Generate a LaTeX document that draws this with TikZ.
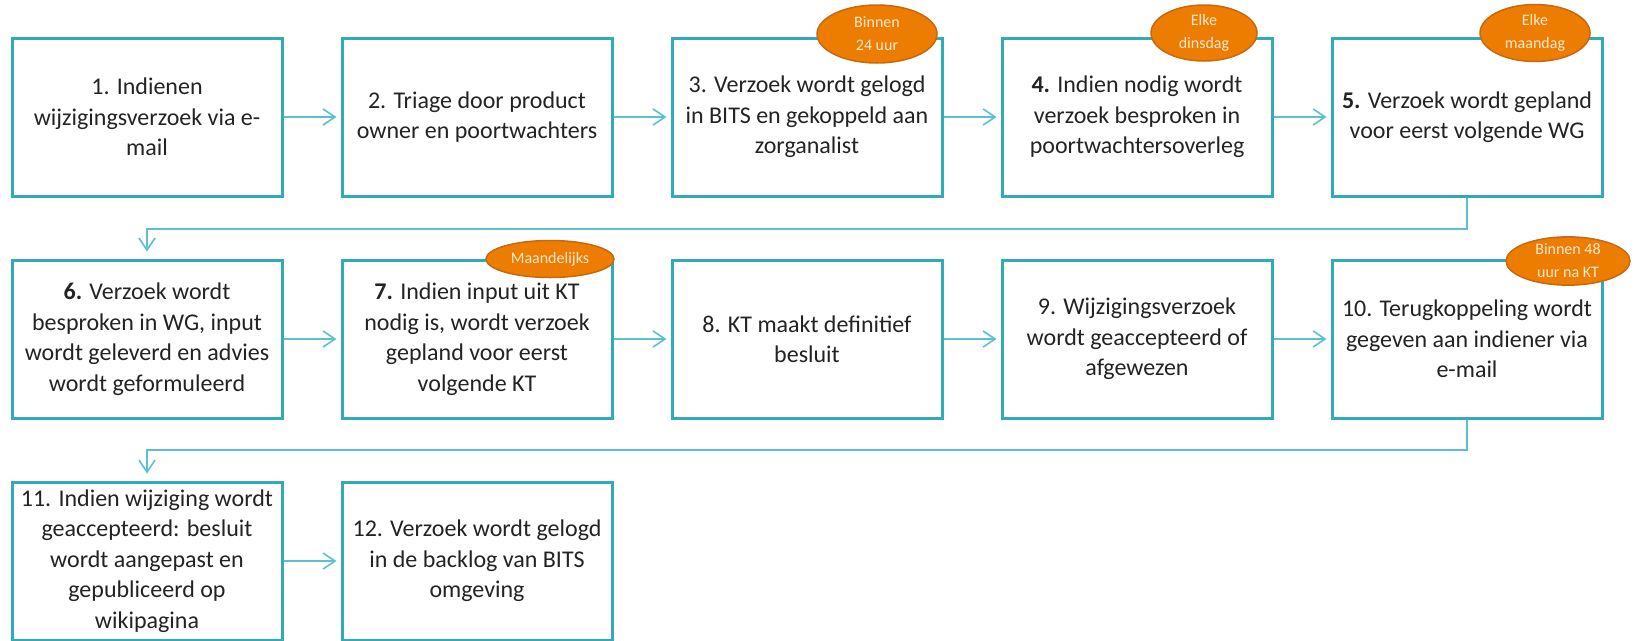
\documentclass[tikz,border=0pt]{standalone}
\usepackage{fontspec}
\setmainfont{Carlito}
\usetikzlibrary{arrows.meta,shapes.geometric}
\definecolor{boxc}{RGB}{49,170,186}
\definecolor{linec}{RGB}{92,192,208}
\definecolor{ovalfill}{RGB}{237,125,0}
\definecolor{ovaldraw}{RGB}{200,105,15}
\definecolor{ovaltext}{RGB}{255,232,210}
\definecolor{txt}{RGB}{35,35,35}
\begin{document}
\begin{tikzpicture}[x=1pt,y=-1pt,
  stepbox/.style={draw=boxc, line width=3pt, rectangle, minimum width=270pt, minimum height=158pt, inner sep=0pt, align=center, text=txt, font=\fontsize{24}{30.5}\selectfont},
  oval/.style={ellipse, fill=ovalfill, draw=ovaldraw, line width=1.5pt, inner sep=0pt, align=center, text=ovaltext, font=\fontsize{16}{23}\selectfont},
  flow/.style={draw=linec, line width=1.6pt, -{Straight Barb[length=12pt,width=16pt,line width=1.6pt]}},
]
\useasboundingbox (0,0) rectangle (1635,640);
% row 1
\node[stepbox] (b1) at (147,117) {1. Indienen\\wijzigingsverzoek via e-\\mail};
\node[stepbox] (b2) at (477,117) {2. Triage door product\\owner en poortwachters};
\node[stepbox] (b3) at (807,117) {3. Verzoek wordt gelogd\\in BITS en gekoppeld aan\\zorganalist};
\node[stepbox] (b4) at (1137,117) {\textbf{4.} Indien nodig wordt\\verzoek besproken in\\poortwachtersoverleg};
\node[stepbox] (b5) at (1467,117) {\textbf{5.} Verzoek wordt gepland\\voor eerst volgende WG};
% row 2
\node[stepbox] (b6) at (147,339) {\textbf{6.} Verzoek wordt\\besproken in WG, input\\wordt geleverd en advies\\wordt geformuleerd};
\node[stepbox] (b7) at (477,339) {\textbf{7.} Indien input uit KT\\nodig is, wordt verzoek\\gepland voor eerst\\volgende KT};
\node[stepbox] (b8) at (807,339) {8. KT maakt definitief\\besluit};
\node[stepbox] (b9) at (1137,339) {9. Wijzigingsverzoek\\wordt geaccepteerd of\\afgewezen};
\node[stepbox] (b10) at (1467,339) {10. Terugkoppeling wordt\\gegeven aan indiener via\\e-mail};
% row 3
\node[stepbox] (b11) at (147,561) {11. Indien wijziging wordt\\geaccepteerd: besluit\\wordt aangepast en\\gepubliceerd op\\wikipagina};
\node[stepbox] (b12) at (477,561) {12. Verzoek wordt gelogd\\in de backlog van BITS\\omgeving};
% connectors
\draw[flow, shorten >=4pt] (b1) -- (b2);
\draw[flow, shorten >=4pt] (b2) -- (b3);
\draw[flow, shorten >=4pt] (b3) -- (b4);
\draw[flow, shorten >=4pt] (b4) -- (b5);
\draw[flow, shorten >=4pt] (b6) -- (b7);
\draw[flow, shorten >=4pt] (b7) -- (b8);
\draw[flow, shorten >=4pt] (b8) -- (b9);
\draw[flow, shorten >=4pt] (b9) -- (b10);
\draw[flow, shorten >=4pt] (b11) -- (b12);
\coordinate (k1) at (1467,229);
\coordinate (k2) at (1467,450);
\draw[flow, shorten >=7pt] (b5.south) -- (k1) -| (b6.north);
\draw[flow, shorten >=7pt] (b10.south) -- (k2) -| (b11.north);
% ovals
\node[oval, minimum width=120pt, minimum height=58pt] (o3) at (877,34) {Binnen\\24 uur};
\node[oval, minimum width=106pt, minimum height=56pt] (o4) at (1204,33) {Elke\\dinsdag};
\node[oval, minimum width=110pt, minimum height=57pt] (o5) at (1535,33) {Elke\\maandag};
\node[oval, minimum width=128pt, minimum height=37pt] (o7) at (550,259) {Maandelijks};
\node[oval, minimum width=124pt, minimum height=47pt] (o10) at (1568,261) {Binnen 48\\uur na KT};
\end{tikzpicture}
\end{document}
